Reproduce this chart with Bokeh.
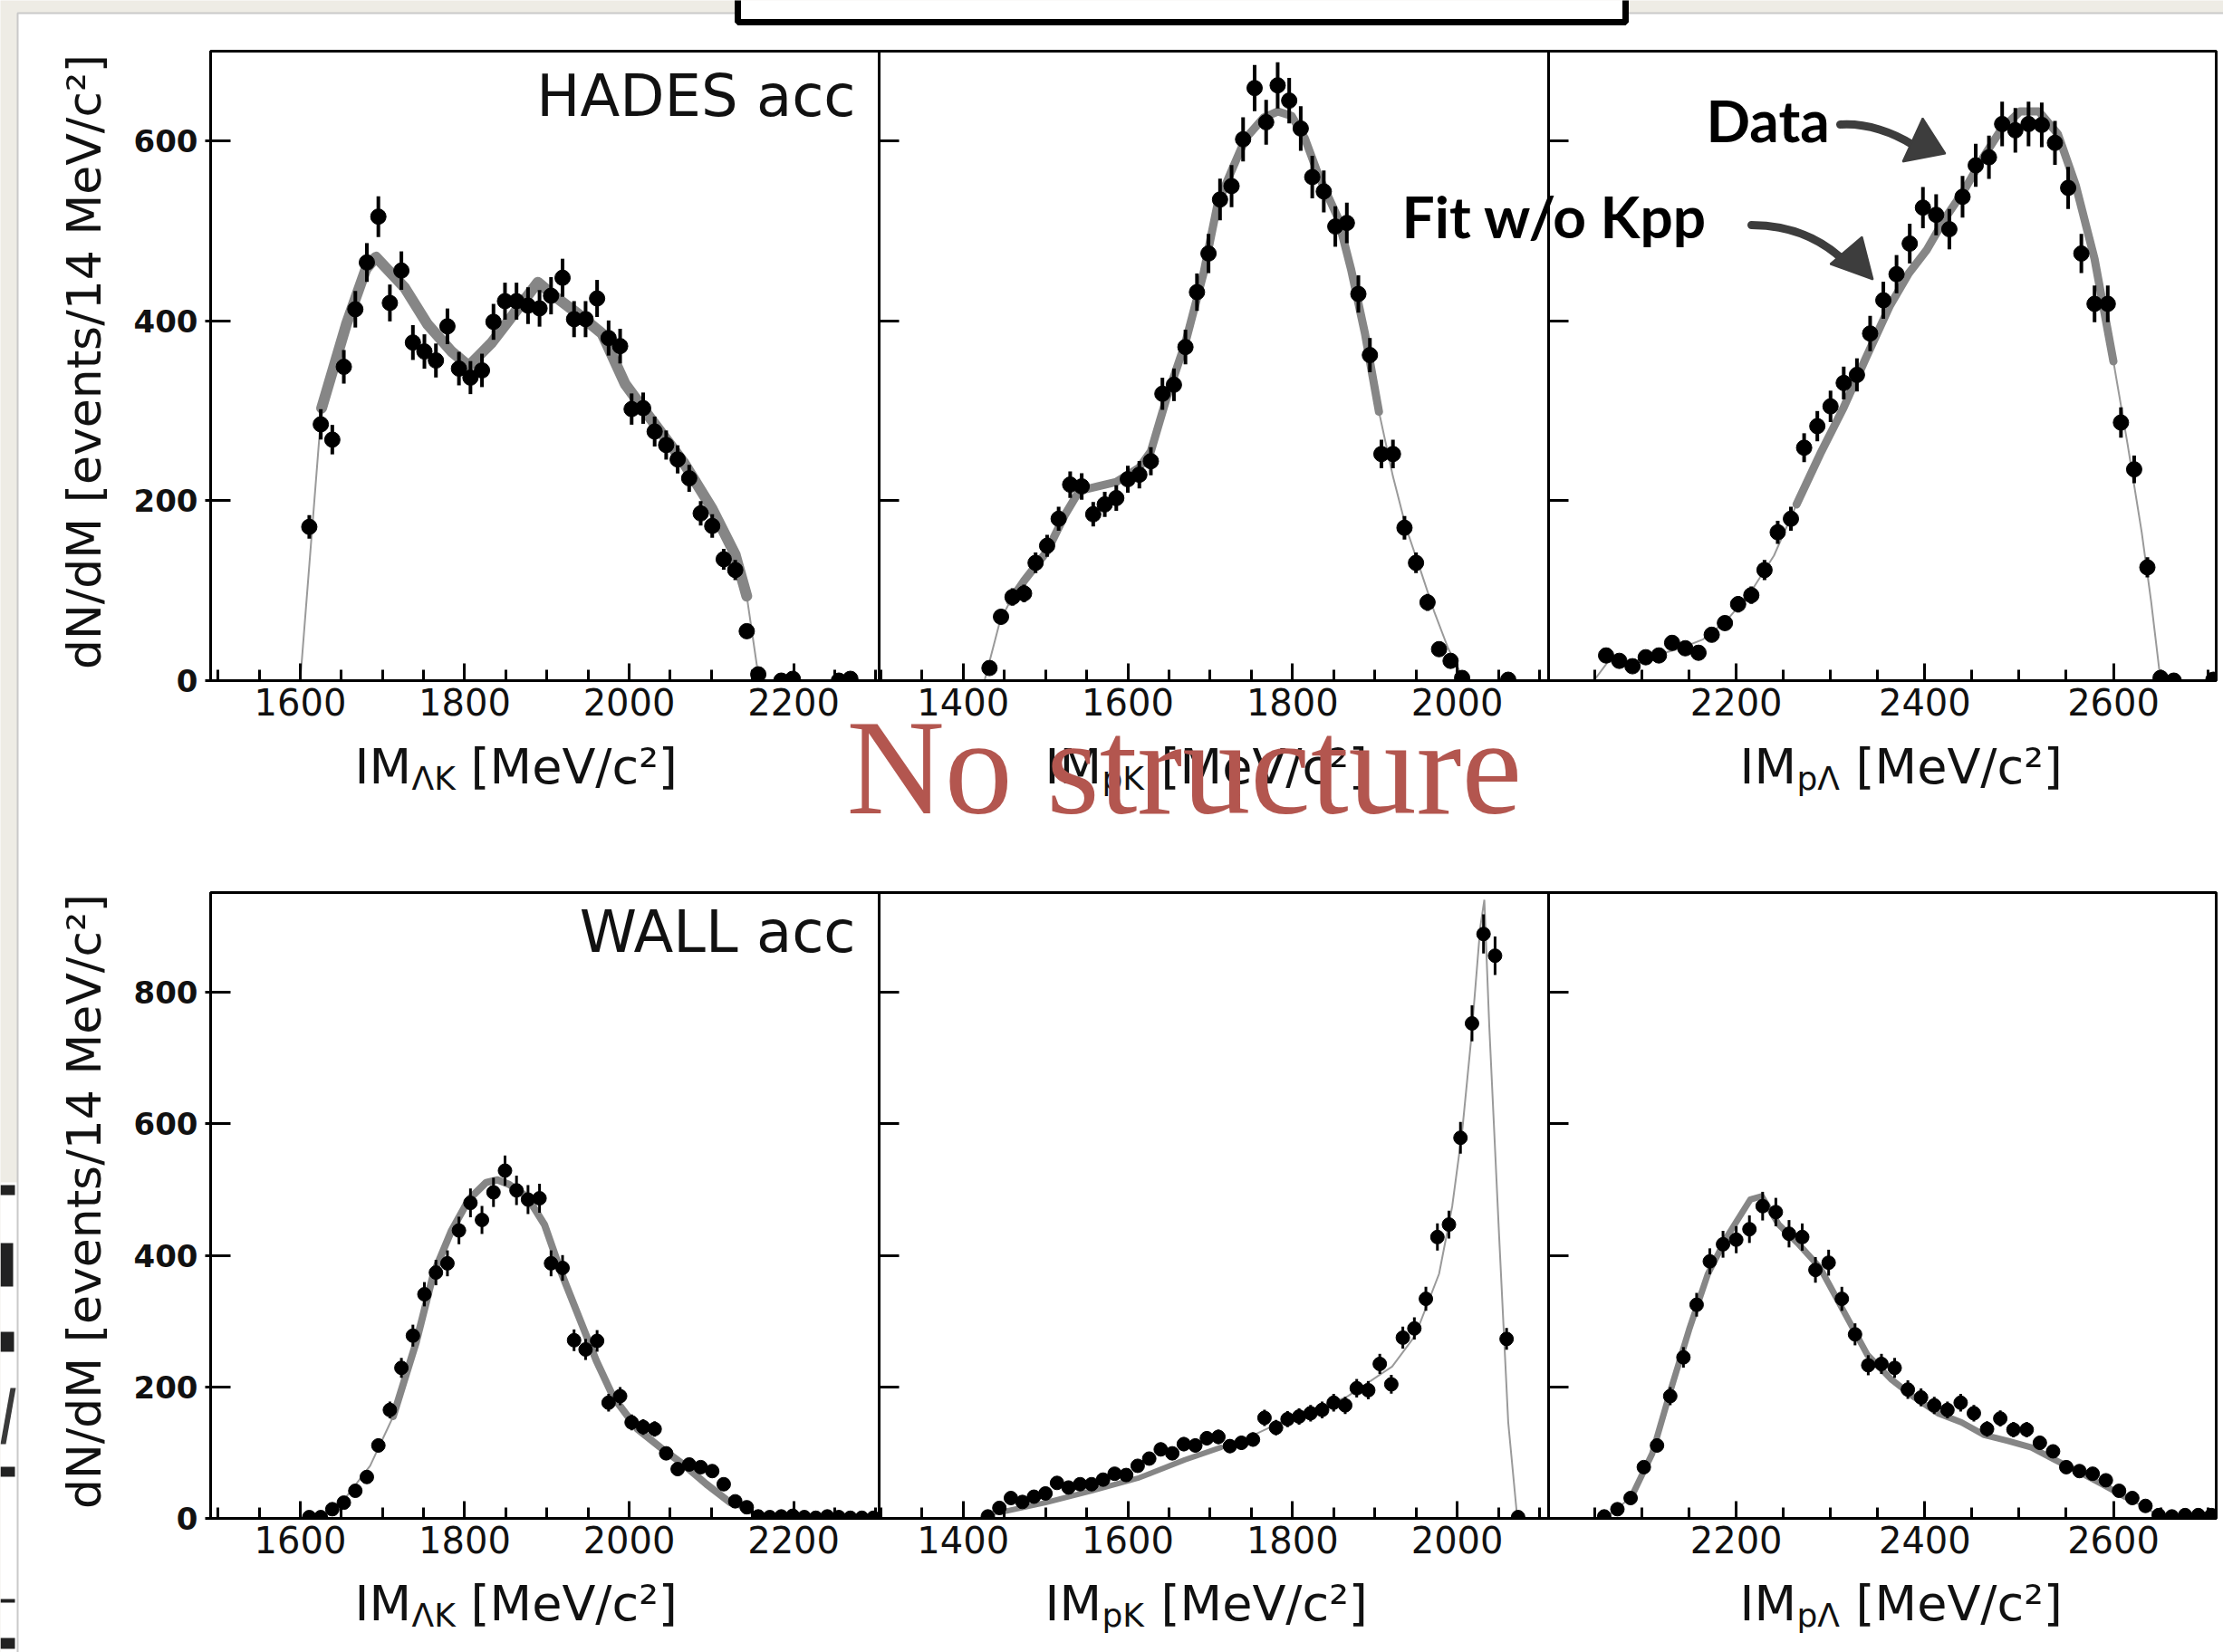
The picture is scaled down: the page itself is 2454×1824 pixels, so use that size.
import math
from bokeh.plotting import figure
from bokeh.models import Range1d, SingleIntervalTicker
from bokeh.embed import file_html
from bokeh.resources import INLINE
from bokeh.core.properties import value

W, H = 2454, 1824

# ---------------- data ----------------
# top row: HADES acceptance
hades_lk_x = [1611, 1625, 1639, 1653, 1667, 1681, 1695, 1709, 1723, 1737, 1751, 1765, 1779, 1793,
              1807, 1821, 1835, 1849, 1863, 1877, 1891, 1905, 1919, 1933, 1947, 1961, 1975, 1989,
              2003, 2017, 2031, 2045, 2059, 2073, 2087, 2101, 2115, 2129, 2143, 2157, 2185, 2199,
              2255, 2269]
hades_lk_y = [171, 285, 268, 349, 413, 465, 516, 420, 456, 376, 366, 356, 394, 347,
              337, 345, 399, 422, 422, 417, 414, 428, 448, 402, 402, 425, 381, 372,
              302, 303, 277, 262, 246, 225, 186, 172, 135, 123, 55, 7, 0, 2,
              0, 2]
hades_lk_fit_x = [1600, 1626, 1656, 1680, 1692, 1727, 1755, 1784, 1805, 1819, 1833, 1854, 1889,
                  1910, 1939, 1967, 1995, 2024, 2066, 2101, 2129, 2143, 2158]
hades_lk_fit_y = [0, 303, 396, 458, 471, 437, 396, 366, 350, 363, 376, 401, 443,
                  427, 407, 386, 330, 294, 243, 191, 140, 94, 0]

hades_pk_x = [1432, 1446, 1460, 1474, 1488, 1502, 1516, 1530, 1544, 1558, 1572, 1586, 1600, 1614,
              1628, 1642, 1656, 1670, 1684, 1698, 1712, 1726, 1740, 1754, 1768, 1782, 1796, 1810,
              1824, 1838, 1852, 1866, 1880, 1894, 1908, 1922, 1936, 1950, 1964, 1978, 1992, 2006,
              2062]
hades_pk_y = [14, 71, 93, 97, 131, 150, 180, 218, 216, 185, 196, 203, 224, 229,
              244, 319, 329, 371, 432, 475, 535, 550, 602, 659, 621, 662, 645, 614,
              560, 544, 505, 509, 430, 362, 252, 252, 170, 131, 87, 35, 22, 3,
              1]
hades_pk_fit_x = [1426, 1445, 1457, 1474, 1502, 1524, 1541, 1563, 1586, 1614, 1628, 1647, 1670,
                  1692, 1709, 1726, 1743, 1765, 1782, 1799, 1815, 1832, 1855, 1871, 1888, 1905,
                  1922, 1938, 1955, 1972, 1989, 2006, 2017]
hades_pk_fit_y = [0, 67, 88, 111, 144, 185, 211, 216, 221, 237, 255, 314, 376,
                  453, 530, 567, 603, 626, 633, 628, 603, 561, 515, 458, 386, 299,
                  227, 170, 124, 77, 36, 5, 0]

hades_pl_x = [2062, 2076, 2090, 2104, 2118, 2132, 2146, 2160, 2174, 2188, 2202, 2216, 2230, 2244,
              2258, 2272, 2286, 2300, 2314, 2328, 2342, 2356, 2370, 2384, 2398, 2412, 2426, 2440,
              2454, 2468, 2482, 2496, 2510, 2524, 2538, 2552, 2566, 2580, 2594, 2608, 2622, 2636,
              2650, 2664, 2706]
hades_pl_y = [28, 22, 16, 26, 28, 42, 36, 31, 51, 64, 85, 95, 123, 165,
              180, 259, 283, 305, 331, 340, 386, 423, 452, 486, 526, 518, 502, 538,
              573, 582, 619, 612, 619, 618, 598, 548, 475, 419, 419, 287, 235, 126,
              3, 0, 1]
hades_pl_fit_x = [2049, 2064, 2091, 2141, 2165, 2190, 2215, 2240, 2264, 2289, 2314, 2338, 2363,
                  2383, 2402, 2422, 2442, 2462, 2481, 2501, 2521, 2541, 2560, 2580, 2600, 2615,
                  2630, 2640, 2650]
hades_pl_fit_y = [0, 21, 21, 36, 46, 67, 98, 139, 196, 252, 304, 360, 417,
                  453, 479, 515, 546, 582, 613, 633, 633, 608, 551, 469, 355, 263,
                  165, 88, 0]

# bottom row: WALL acceptance
wall_lk_x = [1611, 1625, 1639, 1653, 1667, 1681, 1695, 1709, 1723, 1737, 1751, 1765, 1779, 1793,
             1807, 1821, 1835, 1849, 1863, 1877, 1891, 1905, 1919, 1933, 1947, 1961, 1975, 1989,
             2003, 2017, 2031, 2045, 2059, 2073, 2087, 2101, 2115, 2129, 2143, 2157, 2171, 2185,
             2199, 2213, 2227, 2241, 2255, 2269, 2283, 2297]
wall_lk_y = [2, 2, 14, 24, 42, 63, 111, 165, 229, 278, 341, 374, 388, 438,
             480, 454, 496, 529, 499, 485, 487, 388, 381, 271, 257, 270, 176, 186,
             146, 139, 136, 99, 75, 82, 78, 72, 52, 26, 17, 3, 2, 3,
             4, 2, 1, 3, 2, 1, 1, 1]
wall_lk_fit_x = [1600, 1628, 1656, 1685, 1713, 1741, 1762, 1784, 1805, 1826, 1840, 1854, 1876,
                 1897, 1918, 1939, 1960, 1981, 2010, 2038, 2066, 2094, 2123, 2144, 2165]
wall_lk_fit_y = [0, 5, 33, 80, 155, 268, 372, 438, 485, 511, 515, 508, 489,
                 447, 372, 306, 240, 184, 136, 108, 82, 52, 24, 9, 0]

wall_pk_x = [1430, 1444, 1458, 1472, 1486, 1500, 1514, 1528, 1542, 1556, 1570, 1584, 1598, 1612,
             1626, 1640, 1654, 1668, 1682, 1696, 1710, 1724, 1738, 1752, 1766, 1780, 1794, 1808,
             1822, 1836, 1850, 1864, 1878, 1892, 1906, 1920, 1934, 1948, 1962, 1976, 1990, 2004,
             2018, 2032, 2046, 2060, 2074]
wall_pk_y = [3, 16, 31, 25, 33, 38, 54, 47, 52, 52, 59, 68, 66, 80,
             91, 105, 99, 113, 111, 122, 124, 110, 115, 120, 153, 138, 151, 155,
             160, 165, 176, 172, 198, 195, 235, 204, 275, 289, 334, 428, 447, 579,
             753, 889, 856, 273, 2]
wall_pk_fit_x = [1427, 1444, 1500, 1556, 1612, 1669, 1713, 1753, 1809, 1865, 1921, 1949, 1978,
                 1994, 2006, 2017, 2028, 2033, 2039, 2051, 2062, 2073]
wall_pk_fit_y = [0, 9, 24, 42, 61, 89, 108, 127, 160, 184, 231, 278, 372,
                 475, 588, 729, 899, 941, 748, 428, 146, 0]

wall_pl_x = [2060, 2074, 2088, 2102, 2116, 2130, 2144, 2158, 2172, 2186, 2200, 2214, 2228, 2242,
             2256, 2270, 2284, 2298, 2312, 2326, 2340, 2354, 2368, 2382, 2396, 2410, 2424, 2438,
             2452, 2466, 2480, 2494, 2508, 2522, 2536, 2550, 2564, 2578, 2592, 2606, 2620, 2634,
             2648, 2662, 2676, 2690, 2704]
wall_pl_y = [3, 14, 31, 78, 111, 186, 245, 325, 391, 417, 424, 440, 475, 466,
             433, 428, 378, 389, 334, 280, 233, 235, 229, 196, 184, 172, 165, 176,
             160, 136, 152, 135, 135, 115, 102, 78, 72, 68, 58, 42, 31, 19,
             5, 3, 5, 5, 5]
wall_pl_fit_x = [2061, 2089, 2111, 2130, 2150, 2170, 2190, 2215, 2227, 2245, 2265, 2289, 2314,
                 2339, 2364, 2389, 2414, 2439, 2463, 2488, 2513, 2538, 2563, 2588, 2612, 2637, 2652]
wall_pl_fit_y = [0, 33, 99, 193, 287, 372, 428, 485, 490, 447, 419, 381, 315,
                 249, 212, 184, 160, 146, 127, 118, 108, 89, 71, 52, 33, 14, 0]

x_ranges = [(1491, 2304), (1298, 2111), (2001, 2709)]
y_max = {"top": 700, "bottom": 952}
panel_tags = ["HADES acc", "WALL acc"]
x_title_subs = ["ΛK", "pK", "pΛ"]
y_title = "dN/dM [events/14 MeV/c²]"

# ---------------- layout (pixels) ----------------
COLS = [(232, 970), (970, 1709), (1709, 2446)]
ROWS = {"top": (56, 751), "bottom": (985, 1676)}


def make_panel(col, row, xs, ys, fx, fy, band, msize, ewid, bandw):
    l, r = COLS[col]
    t, b = ROWS[row]
    p = figure(width=W, height=H, x_range=Range1d(*x_ranges[col]),
               y_range=Range1d(0, y_max[row]), output_backend="svg", toolbar_location=None,
               min_border_left=l, min_border_right=W - r, min_border_top=t,
               min_border_bottom=H - b)
    p.border_fill_color = None
    p.background_fill_color = "white"
    p.outline_line_color = "black"
    p.outline_line_width = 3
    p.grid.visible = False

    xa = p.xaxis[0]
    xa.ticker = SingleIntervalTicker(interval=200, num_minor_ticks=4)
    xa.axis_line_width = 3
    xa.major_tick_line_width = 3
    xa.minor_tick_line_width = 3
    xa.major_tick_in = 19
    xa.major_tick_out = 0
    xa.minor_tick_in = 12
    xa.minor_tick_out = 0
    xa.major_label_text_font = "DejaVu Sans"
    xa.major_label_text_font_size = "40px"
    xa.major_label_text_color = "#111111"
    xa.major_label_standoff = 8

    ya = p.yaxis[0]
    ya.ticker = SingleIntervalTicker(interval=200, num_minor_ticks=0)
    ya.axis_line_width = 3
    ya.major_tick_line_width = 3
    ya.minor_tick_line_color = None
    ya.major_tick_in = 22
    ya.major_label_text_font = "DejaVu Sans"
    ya.major_label_text_font_style = "bold"
    ya.major_label_text_font_size = "34px"
    ya.major_label_text_color = "#111111"
    ya.major_label_standoff = 8
    if col == 0:
        ya.major_tick_out = 6
    else:
        ya.major_tick_out = 0
        ya.major_label_text_color = None

    # fit: thin line over the whole range, thick band in the middle
    p.line(fx, fy, line_width=2, line_color="#9a9a9a")
    bx = [x for x in fx if band[0] <= x <= band[1]]
    by = [y for x, y in zip(fx, fy) if band[0] <= x <= band[1]]
    p.line(bx, by, line_width=bandw, line_color="#868686", line_join="round", line_cap="round")

    err = [math.sqrt(v) for v in ys]
    p.segment(x0=xs, y0=[v - e for v, e in zip(ys, err)], x1=xs,
              y1=[v + e for v, e in zip(ys, err)], line_width=ewid, line_color="black")
    p.scatter(xs, ys, size=msize, fill_color="black", line_color="black")
    return p


panels = [
    make_panel(0, "top", hades_lk_x, hades_lk_y, hades_lk_fit_x, hades_lk_fit_y, (1626, 2143), 17, 4, 12),
    make_panel(1, "top", hades_pk_x, hades_pk_y, hades_pk_fit_x, hades_pk_fit_y, (1457, 1905), 17, 4, 9),
    make_panel(2, "top", hades_pl_x, hades_pl_y, hades_pl_fit_x, hades_pl_fit_y, (2264, 2600), 17, 4, 9),
    make_panel(0, "bottom", wall_lk_x, wall_lk_y, wall_lk_fit_x, wall_lk_fit_y, (1713, 2123), 15, 3, 8),
    make_panel(1, "bottom", wall_pk_x, wall_pk_y, wall_pk_fit_x, wall_pk_fit_y, (1444, 1713), 15, 3, 6),
    make_panel(2, "bottom", wall_pl_x, wall_pl_y, wall_pl_fit_x, wall_pl_fit_y, (2089, 2612), 15, 3, 7),
]


def pixel_fig():
    f = figure(width=W, height=H, x_range=Range1d(0, W), y_range=Range1d(H, 0),
               output_backend="svg", toolbar_location=None, min_border=0,
               x_axis_location=None, y_axis_location=None)
    f.grid.visible = False
    f.outline_line_color = None
    return f


# background slide
bg = pixel_fig()
bg.background_fill_color = "#eeece5"
bg.border_fill_color = "#eeece5"
bg.quad(left=[0], right=[19], top=[1305], bottom=[H], fill_color="white", line_color=None)
bg.quad(left=[22], right=[W + 20], top=[18], bottom=[H + 20], fill_color="#d6d4cc",
        line_color=None, fill_alpha=0.6)
bg.quad(left=[19], right=[W + 20], top=[14], bottom=[H + 20], fill_color="white",
        line_color="#c9c9c9", line_width=2)
bg.quad(left=[814], right=[1794], top=[-20], bottom=[24], fill_color="white",
        line_color="black", line_width=7)
frag_l = [0, 0, 0, 0, 0, 0]
frag_r = [16, 14, 15, 16, 16, 16]
frag_t = [1308, 1372, 1470, 1619, 1808, 1765]
frag_b = [1319, 1420, 1492, 1630, 1820, 1769]
bg.quad(left=frag_l, right=frag_r, top=frag_t, bottom=frag_b, fill_color="#222222", line_color=None)
bg.patch([0, 6, 17, 11], [1594, 1594, 1532, 1532], fill_color="#3a3a3a", line_color=None)

# overlay texts / arrows
ov = pixel_fig()
ov.background_fill_color = None
ov.border_fill_color = None

sans = value("DejaVu Sans")
# y titles
ov.text(x=[92, 92], y=[399, 1326], text=[y_title, y_title], angle=math.pi / 2,
        text_font=sans, text_font_size="52px", text_align="center",
        text_baseline="middle", text_color="#111111")
# x titles with subscripts
tx = [391, 1153, 1920]
for base in (846, 1770):
    ov.text(x=tx, y=[base] * 3, text=["IM"] * 3, text_font=sans, text_font_size="54px",
            text_align="left", text_baseline="alphabetic", text_color="#111111")
    ov.text(x=[v + 63 for v in tx], y=[base + 13] * 3, text=x_title_subs, text_font=sans,
            text_font_size="36px", text_align="left", text_baseline="alphabetic",
            text_color="#111111")
    ov.text(x=[v + 128 for v in tx], y=[base] * 3, text=["[MeV/c²]"] * 3, text_font=sans,
            text_font_size="54px", text_align="left", text_baseline="alphabetic",
            text_color="#111111")
# panel tags
ov.text(x=[944, 944], y=[105, 1028], text=panel_tags, text_font=sans, text_font_size="64px",
        text_align="right", text_baseline="alphabetic", text_color="#111111")
# red slide text
ov.text(x=[934], y=[846], text=["No structure"], text_font=value("Liberation Serif"),
        text_font_size="150px", text_align="left", text_baseline="alphabetic",
        text_color="#b3564f")
# annotations
ov.text(x=[1883, 1547], y=[132, 238], text=["Data", "Fit w/o Kpp"], text_font=value("Lato"),
        text_font_size="64px", text_font_style="bold", text_align="left",
        text_baseline="alphabetic", text_color="black")
ov.bezier(x0=[2031, 1933], y0=[137, 248], x1=[2112, 2035], y1=[160, 287],
          cx0=[2060, 1975], cy0=[135, 248], cx1=[2090, 2008], cy1=[146, 262],
          line_width=9, line_color="#3d3d3d", line_cap="round")
ov.patches(xs=[[2147, 2100, 2122], [2067, 2020, 2055]],
           ys=[[169, 178, 130], [308, 291, 261]],
           fill_color="#3d3d3d", line_color="#3d3d3d", line_width=2)

layers = [bg] + panels + [ov]
for i, f in enumerate(layers):
    f.margin = (0 if i == 0 else -H, 0, 0, 0)

open("out.html", "w").write(file_html(layers, INLINE))
